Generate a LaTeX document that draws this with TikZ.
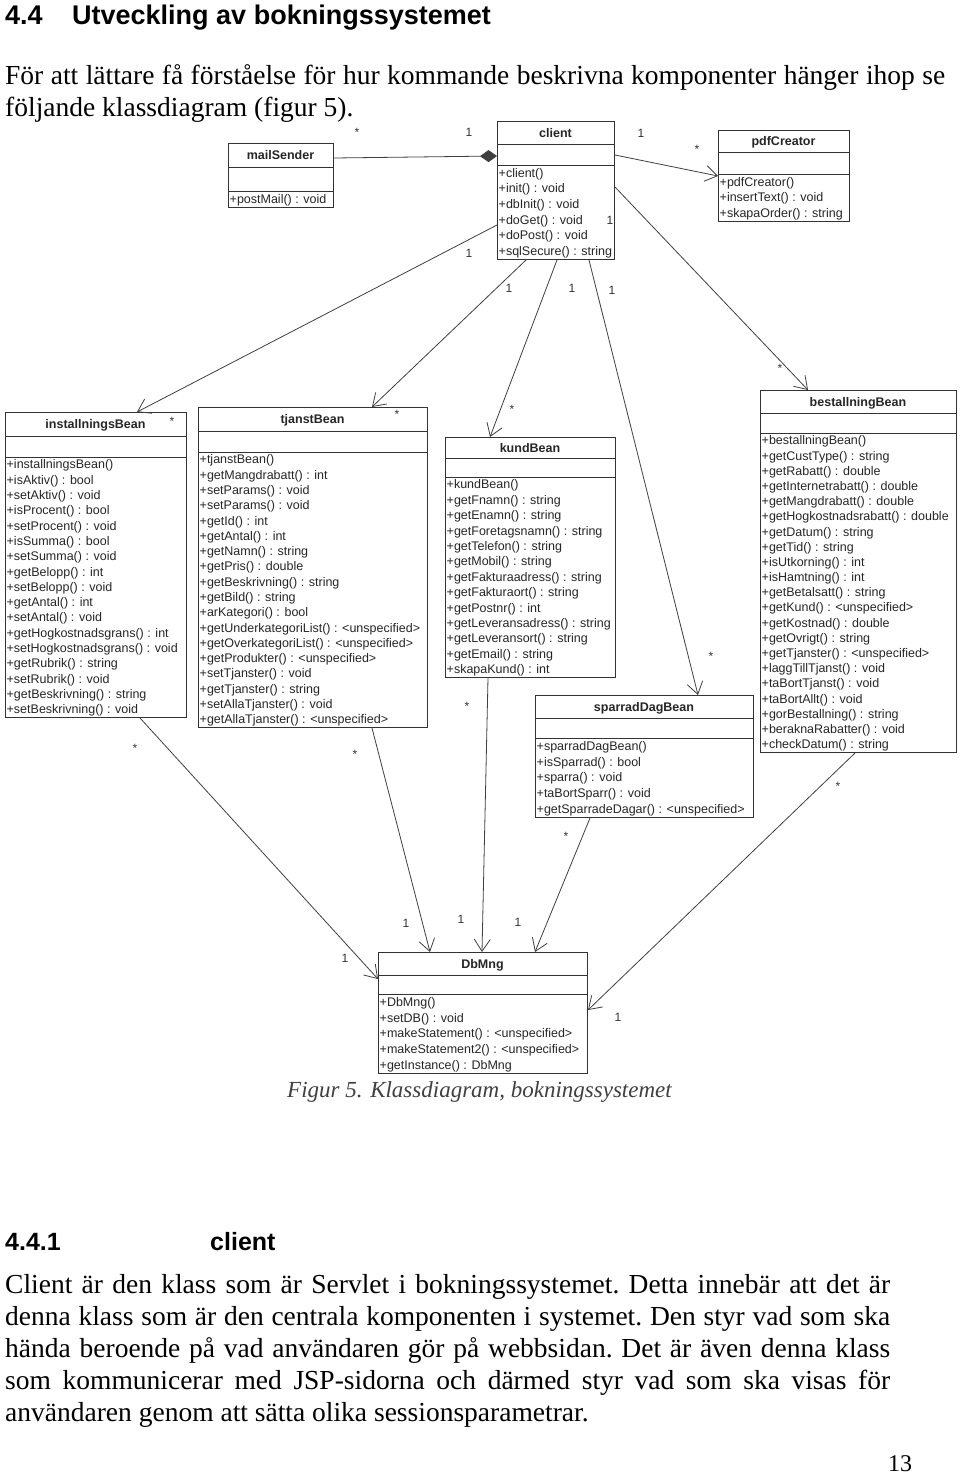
\documentclass[tikz,border=0pt]{standalone}
\usepackage{fontspec}
\setmainfont{Liberation Serif}
\setsansfont{Liberation Sans}
\usetikzlibrary{arrows.meta,calc}

\begin{document}
\begin{tikzpicture}[x=1pt,y=-1pt,
    cls/.style={draw=black!80,line width=1pt,inner sep=0pt,anchor=north west},
    sep/.style={draw=black!80,line width=1pt},
    clsname/.style={anchor=base,inner sep=0pt,font=\sffamily\bfseries\fontsize{12.5}{15}\selectfont,text=black!85},
    op/.style={anchor=base west,inner sep=0pt,xshift=1.5pt,font=\sffamily\fontsize{12.5}{15}\selectfont,text=black!85},
    assoc/.style={draw=black!75,line width=0.8pt,-{Straight Barb[length=12pt,width=16pt]}},
    comp/.style={draw=black!75,line width=0.8pt,-{Diamond[length=17pt,width=12pt]}},
    mult/.style={inner sep=0pt,font=\sffamily\fontsize{12}{14}\selectfont,text=black!80},
    body/.style={anchor=base west,inner sep=0pt,align=justify,font=\fontsize{27.5}{32}\selectfont\frenchspacing}]
    \fill[white] (0,0) rectangle (960,1476);
    \useasboundingbox (0,0) rectangle (960,1476);

    \node[anchor=base west,inner sep=0pt,font=\sffamily\bfseries\fontsize{27}{32}\selectfont] (sec) at (5,24) {\makebox[67pt][l]{4.4}Utveckling av bokningssystemet};
    \node[body,text width=940pt] (intro) at (5,84) {För att lättare få förståelse för hur kommande beskrivna komponenter hänger ihop se\linebreak följande klassdiagram (figur 5).};

    \node[cls,minimum width=105,minimum height=64] (mailSender) at (228,143) {};
    \draw[sep] (228,167) -- +(105,0) (228,191) -- +(105,0);
    \node[clsname] (mailSender-name) at (280.5,159.5) {mailSender};
    \node[op] (mailSender-1) at (228,203.3) {+postMail() : void};

    \node[cls,minimum width=117,minimum height=138] (client) at (497,121) {};
    \draw[sep] (497,144) -- +(117,0) (497,165) -- +(117,0);
    \node[clsname] (client-name) at (555.5,137) {client};
    \foreach \m [count=\i] in {+client(),+init() : void,+dbInit() : void,+doGet() : void,+doPost() : void,+sqlSecure() : string}
        \node[op] (client-\i) at (497,{165+15.67*(\i-0.5)+4.3}) {\m};

    \node[cls,minimum width=131,minimum height=91] (pdfCreator) at (718,130) {};
    \draw[sep] (718,152) -- +(131,0) (718,174) -- +(131,0);
    \node[clsname] (pdfCreator-name) at (783.5,145.5) {pdfCreator};
    \foreach \m [count=\i] in {+pdfCreator(),+insertText() : void,+skapaOrder() : string}
        \node[op] (pdfCreator-\i) at (718,{174+15.67*(\i-0.5)+4.3}) {\m};

    \node[cls,minimum width=181,minimum height=305] (installningsBean) at (5,412) {};
    \draw[sep] (5,436) -- +(181,0) (5,457) -- +(181,0);
    \node[clsname] (installningsBean-name) at (95.5,428.5) {installningsBean};
    \foreach \m [count=\i] in {+installningsBean(),+isAktiv() : bool,+setAktiv() : void,+isProcent() : bool,+setProcent() : void,+isSumma() : bool,+setSumma() : void,+getBelopp() : int,+setBelopp() : void,+getAntal() : int,+setAntal() : void,+getHogkostnadsgrans() : int,+setHogkostnadsgrans() : void,+getRubrik() : string,+setRubrik() : void,+getBeskrivning() : string,+setBeskrivning() : void}
        \node[op] (installningsBean-\i) at (5,{457+15.3*(\i-0.5)+4.3}) {\m};

    \node[cls,minimum width=229,minimum height=320] (tjanstBean) at (198,407) {};
    \draw[sep] (198,431) -- +(229,0) (198,452) -- +(229,0);
    \node[clsname] (tjanstBean-name) at (312.5,423.5) {tjanstBean};
    \foreach \m [count=\i] in {+tjanstBean(),+getMangdrabatt() : int,+setParams() : void,+setParams() : void,+getId() : int,+getAntal() : int,+getNamn() : string,+getPris() : double,+getBeskrivning() : string,+getBild() : string,+arKategori() : bool,+getUnderkategoriList() : <unspecified>,+getOverkategoriList() : <unspecified>,+getProdukter() : <unspecified>,+setTjanster() : void,+getTjanster() : string,+setAllaTjanster() : void,+getAllaTjanster() : <unspecified>}
        \node[op] (tjanstBean-\i) at (198,{452+15.28*(\i-0.5)+4.3}) {\m};

    \node[cls,minimum width=170,minimum height=240] (kundBean) at (445,437) {};
    \draw[sep] (445,458) -- +(170,0) (445,477) -- +(170,0);
    \node[clsname] (kundBean-name) at (530,452) {kundBean};
    \foreach \m [count=\i] in {+kundBean(),+getFnamn() : string,+getEnamn() : string,+getForetagsnamn() : string,+getTelefon() : string,+getMobil() : string,+getFakturaadress() : string,+getFakturaort() : string,+getPostnr() : int,+getLeveransadress() : string,+getLeveransort() : string,+getEmail() : string,+skapaKund() : int}
        \node[op] (kundBean-\i) at (445,{477+15.38*(\i-0.5)+4.3}) {\m};

    \node[cls,minimum width=196,minimum height=362] (bestallningBean) at (760,390) {};
    \draw[sep] (760,413) -- +(196,0) (760,433) -- +(196,0);
    \node[clsname] (bestallningBean-name) at (858,406) {bestallningBean};
    \foreach \m [count=\i] in {+bestallningBean(),+getCustType() : string,+getRabatt() : double,+getInternetrabatt() : double,+getMangdrabatt() : double,+getHogkostnadsrabatt() : double,+getDatum() : string,+getTid() : string,+isUtkorning() : int,+isHamtning() : int,+getBetalsatt() : string,+getKund() : <unspecified>,+getKostnad() : double,+getOvrigt() : string,+getTjanster() : <unspecified>,+laggTillTjanst() : void,+taBortTjanst() : void,+taBortAllt() : void,+gorBestallning() : string,+beraknaRabatter() : void,+checkDatum() : string}
        \node[op] (bestallningBean-\i) at (760,{433+15.19*(\i-0.5)+4.3}) {\m};

    \node[cls,minimum width=218,minimum height=122] (sparradDagBean) at (535,695) {};
    \draw[sep] (535,718) -- +(218,0) (535,738) -- +(218,0);
    \node[clsname] (sparradDagBean-name) at (644,711) {sparradDagBean};
    \foreach \m [count=\i] in {+sparradDagBean(),+isSparrad() : bool,+sparra() : void,+taBortSparr() : void,+getSparradeDagar() : <unspecified>}
        \node[op] (sparradDagBean-\i) at (535,{738+15.8*(\i-0.5)+4.3}) {\m};

    \node[cls,minimum width=209,minimum height=121] (DbMng) at (378,952) {};
    \draw[sep] (378,975) -- +(209,0) (378,994) -- +(209,0);
    \node[clsname] (DbMng-name) at (482.5,968) {DbMng};
    \foreach \m [count=\i] in {+DbMng(),+setDB() : void,+makeStatement() : <unspecified>,+makeStatement2() : <unspecified>,+getInstance() : DbMng}
        \node[op] (DbMng-\i) at (378,{994+15.8*(\i-0.5)+4.3}) {\m};

    \draw[comp] ($(mailSender.north east)+(0,15)$) -- ($(client.north west)+(0,35)$);
    \draw[assoc] ($(client.north east)+(0,34)$) -- ($(pdfCreator.north west)+(0,46)$);
    \draw[assoc] ($(client.north west)+(0,104)$) -- ($(installningsBean.north west)+(132,0)$);
    \draw[assoc] ($(client.south west)+(29,0)$) -- ($(tjanstBean.north west)+(174,0)$);
    \draw[assoc] ($(client.south west)+(60,0)$) -- ($(kundBean.north west)+(45,0)$);
    \draw[assoc] ($(client.south west)+(92,0)$) -- ($(sparradDagBean.north west)+(163,0)$);
    \draw[assoc] ($(client.north east)+(0,66)$) -- ($(bestallningBean.north west)+(48,0)$);
    \draw[assoc] ($(installningsBean.south west)+(135,0)$) -- ($(DbMng.north west)+(0,27)$);
    \draw[assoc] ($(tjanstBean.south west)+(174,0)$) -- ($(DbMng.north west)+(52,0)$);
    \draw[assoc] ($(kundBean.south west)+(43,0)$) -- ($(DbMng.north west)+(104,0)$);
    \draw[assoc] ($(sparradDagBean.south west)+(55,0)$) -- ($(DbMng.north west)+(157,0)$);
    \draw[assoc] ($(bestallningBean.south west)+(95,0)$) -- ($(DbMng.north east)+(0,58)$);

    \foreach \t/\x/\y [count=\k] in {*/357/132,1/469/132,1/641/133,*/697/149,1/469/253,*/172/421,1/509/288,*/397/414,1/572/288,*/512/409,1/612/290,*/711/656,1/610/220,*/780/368,*/135/748,1/345/958,*/355/754,1/406/923,*/467/706,1/461/919,*/566/836,1/518/922,*/838/786,1/618/1017}
        \node[mult] (mult\k) at (\x,\y) {\t};

    \node[anchor=base,inner sep=0pt,font=\itshape\fontsize{23}{28}\selectfont,text=black!75] (caption) at (479.5,1097) {Figur 5. Klassdiagram, bokningssystemet};

    \node[anchor=base west,inner sep=0pt,font=\sffamily\bfseries\fontsize{25}{30}\selectfont] (subsec) at (5,1250) {4.4.1};
    \node[anchor=base west,inner sep=0pt,font=\sffamily\bfseries\fontsize{25}{30}\selectfont] (subsec-title) at (210,1250) {client};
    \node[body,text width=885pt] (clientText) at (5,1293) {Client är den klass som är Servlet i bokningssystemet. Detta innebär att det är\linebreak denna klass som är den centrala komponenten i systemet. Den styr vad som ska\linebreak hända beroende på vad användaren gör på webbsidan. Det är även denna klass\linebreak som kommunicerar med JSP-sidorna och därmed styr vad som ska visas för\linebreak användaren genom att sätta olika sessionsparametrar.};
    \node[anchor=base,inner sep=0pt,font=\fontsize{24}{28}\selectfont] (page) at (900,1471) {13};
\end{tikzpicture}
\end{document}
